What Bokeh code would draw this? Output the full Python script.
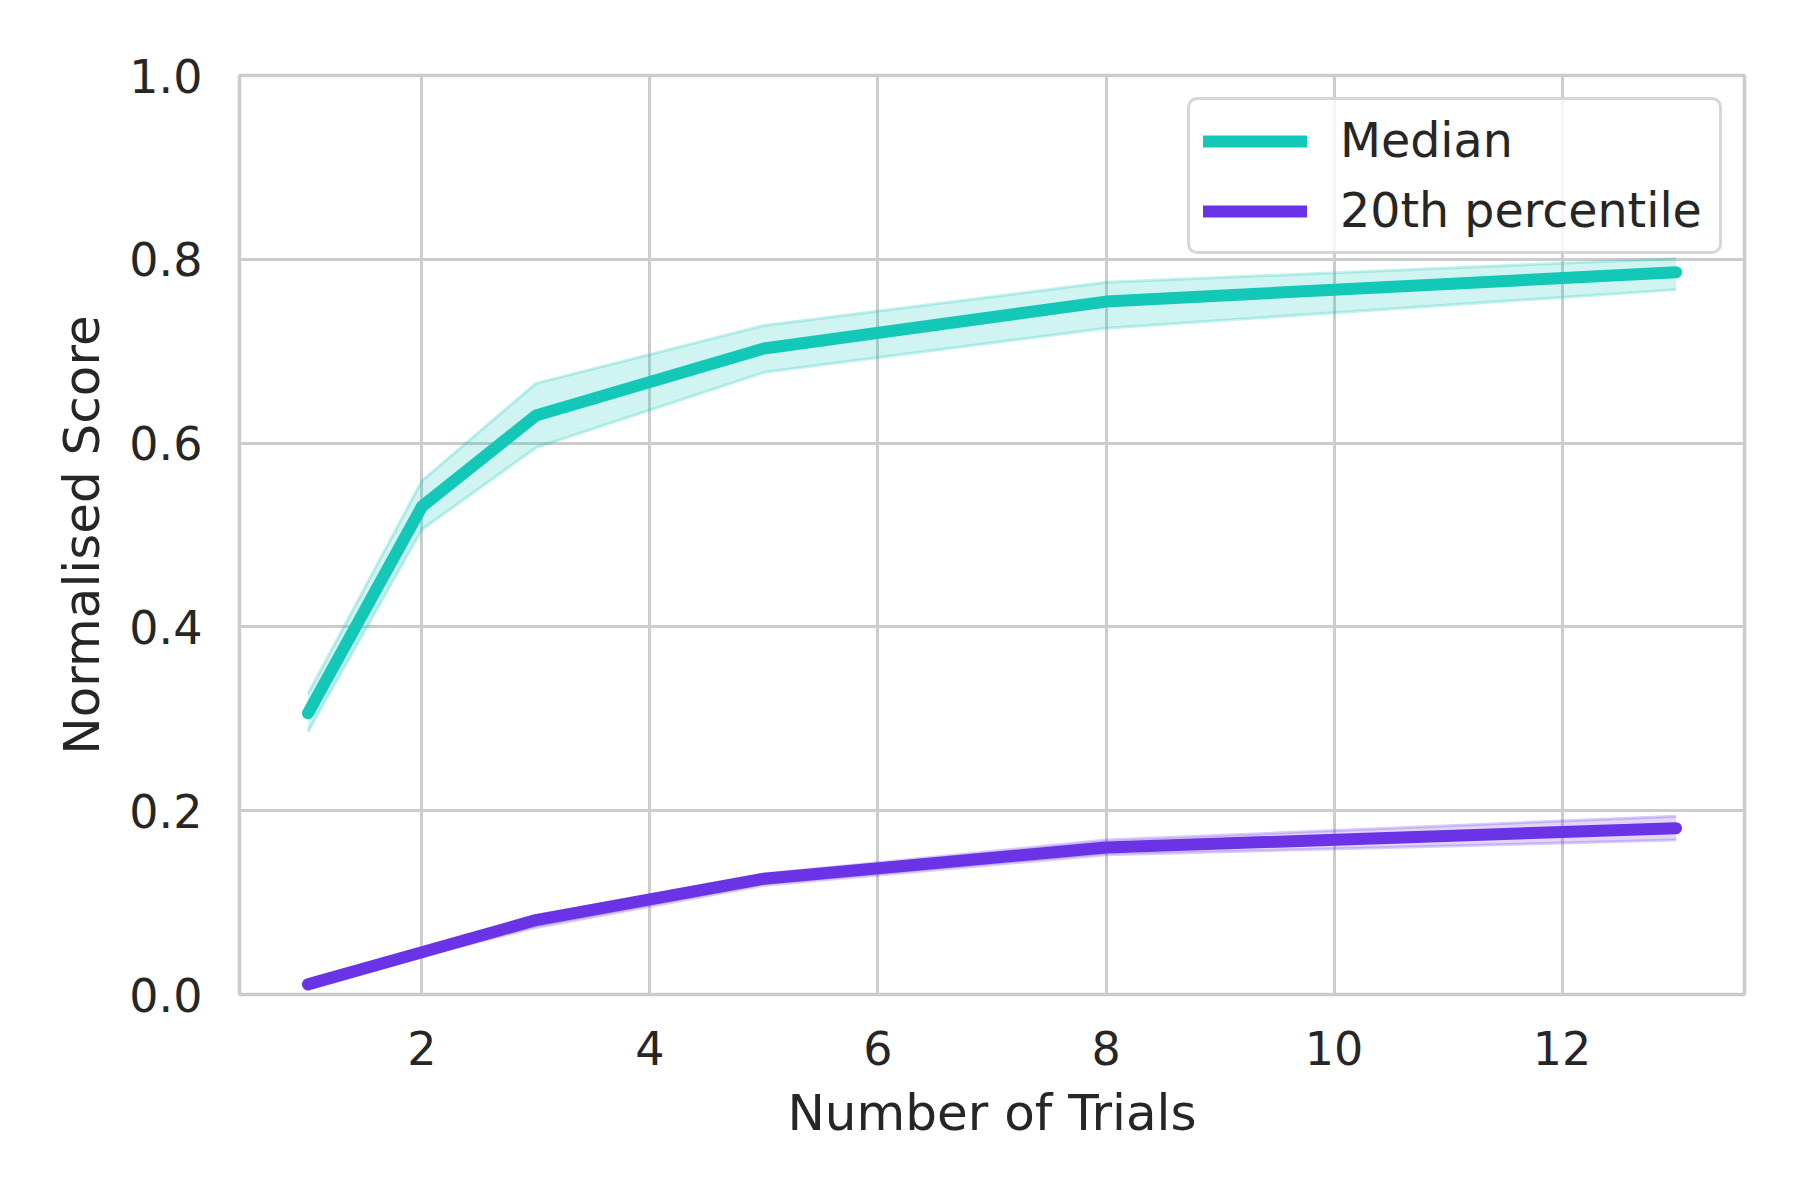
from bokeh.plotting import figure
from bokeh.models import Range1d, FixedTicker, Legend, LegendItem
from bokeh.embed import file_html
from bokeh.resources import INLINE

trials = [1, 2, 3, 5, 8, 13]
median = [0.306, 0.531, 0.630, 0.703, 0.754, 0.786]
median_lo = [0.286, 0.506, 0.595, 0.677, 0.725, 0.767]
median_hi = [0.327, 0.559, 0.665, 0.728, 0.775, 0.801]
pct20 = [0.011, 0.046, 0.081, 0.126, 0.160, 0.181]
pct20_lo = [0.009, 0.042, 0.073, 0.119, 0.152, 0.168]
pct20_hi = [0.013, 0.049, 0.086, 0.131, 0.168, 0.194]
x_ticks = [2, 4, 6, 8, 10, 12]
y_ticks = [0.0, 0.2, 0.4, 0.6, 0.8, 1.0]

TEAL = "#14C8B8"
PURPLE = "#6A33E6"
TXT = "#262626"
GRID = "#cccccc"
FONT = "DejaVu Sans"

p = figure(width=1792, height=1192, output_backend="svg", toolbar_location=None,
           x_range=Range1d(0.4, 13.6), y_range=Range1d(0.0, 1.0),
           min_border_left=239, min_border_right=48, min_border_top=75, min_border_bottom=198)

p.background_fill_color = "white"
p.border_fill_color = "white"
p.outline_line_color = GRID
p.outline_line_width = 3.5

for ax in (p.xaxis[0], p.yaxis[0]):
    ax.axis_line_color = None
    ax.major_tick_line_color = None
    ax.minor_tick_line_color = None
    ax.major_label_text_font = FONT
    ax.major_label_text_font_size = "46px"
    ax.major_label_text_color = TXT
    ax.axis_label_text_font = FONT
    ax.axis_label_text_font_size = "50px"
    ax.axis_label_text_color = TXT
    ax.axis_label_text_font_style = "normal"

p.xaxis.ticker = FixedTicker(ticks=x_ticks)
p.yaxis.ticker = FixedTicker(ticks=y_ticks)
p.yaxis.major_label_overrides = {t: f"{t:.1f}" for t in y_ticks}
p.xaxis.axis_label = "Number of Trials"
p.yaxis.axis_label = "Normalised Score"
p.xaxis.major_label_standoff = 30
p.yaxis.major_label_standoff = 31
p.xaxis.axis_label_standoff = 16
p.yaxis.axis_label_standoff = 15

p.xgrid.ticker = FixedTicker(ticks=x_ticks)
p.ygrid.ticker = FixedTicker(ticks=y_ticks)
for g in (p.xgrid[0], p.ygrid[0]):
    g.grid_line_color = GRID
    g.grid_line_width = 3

# bands
p.varea(x=trials, y1=median_lo, y2=median_hi, fill_color=TEAL, fill_alpha=0.2)
p.line(trials, median_lo, line_color=TEAL, line_alpha=0.25, line_width=3)
p.line(trials, median_hi, line_color=TEAL, line_alpha=0.25, line_width=3)
p.varea(x=trials, y1=pct20_lo, y2=pct20_hi, fill_color=PURPLE, fill_alpha=0.2)
p.line(trials, pct20_lo, line_color=PURPLE, line_alpha=0.25, line_width=3)
p.line(trials, pct20_hi, line_color=PURPLE, line_alpha=0.25, line_width=3)

r1 = p.line(trials, median, line_color=TEAL, line_width=12, line_cap="round", line_join="round")
r2 = p.line(trials, pct20, line_color=PURPLE, line_width=12, line_cap="round", line_join="round")

legend = Legend(items=[LegendItem(label="Median", renderers=[r1]),
                       LegendItem(label="20th percentile", renderers=[r2])],
                location="top_right")
legend.margin = 22
legend.padding = 13
legend.spacing = 15
legend.glyph_width = 104
legend.glyph_height = 50
legend.label_standoff = 33
legend.label_width = 366
legend.label_text_font = FONT
legend.label_text_font_size = "47.5px"
legend.label_text_color = TXT
legend.label_height = 50
legend.border_line_color = GRID
legend.border_line_width = 3
legend.border_line_alpha = 0.8
legend.background_fill_color = "white"
legend.background_fill_alpha = 0.8
try:
    legend.border_radius = 10
except Exception:
    pass
p.add_layout(legend, "center")

open("out.html", "w").write(file_html(p, INLINE))
